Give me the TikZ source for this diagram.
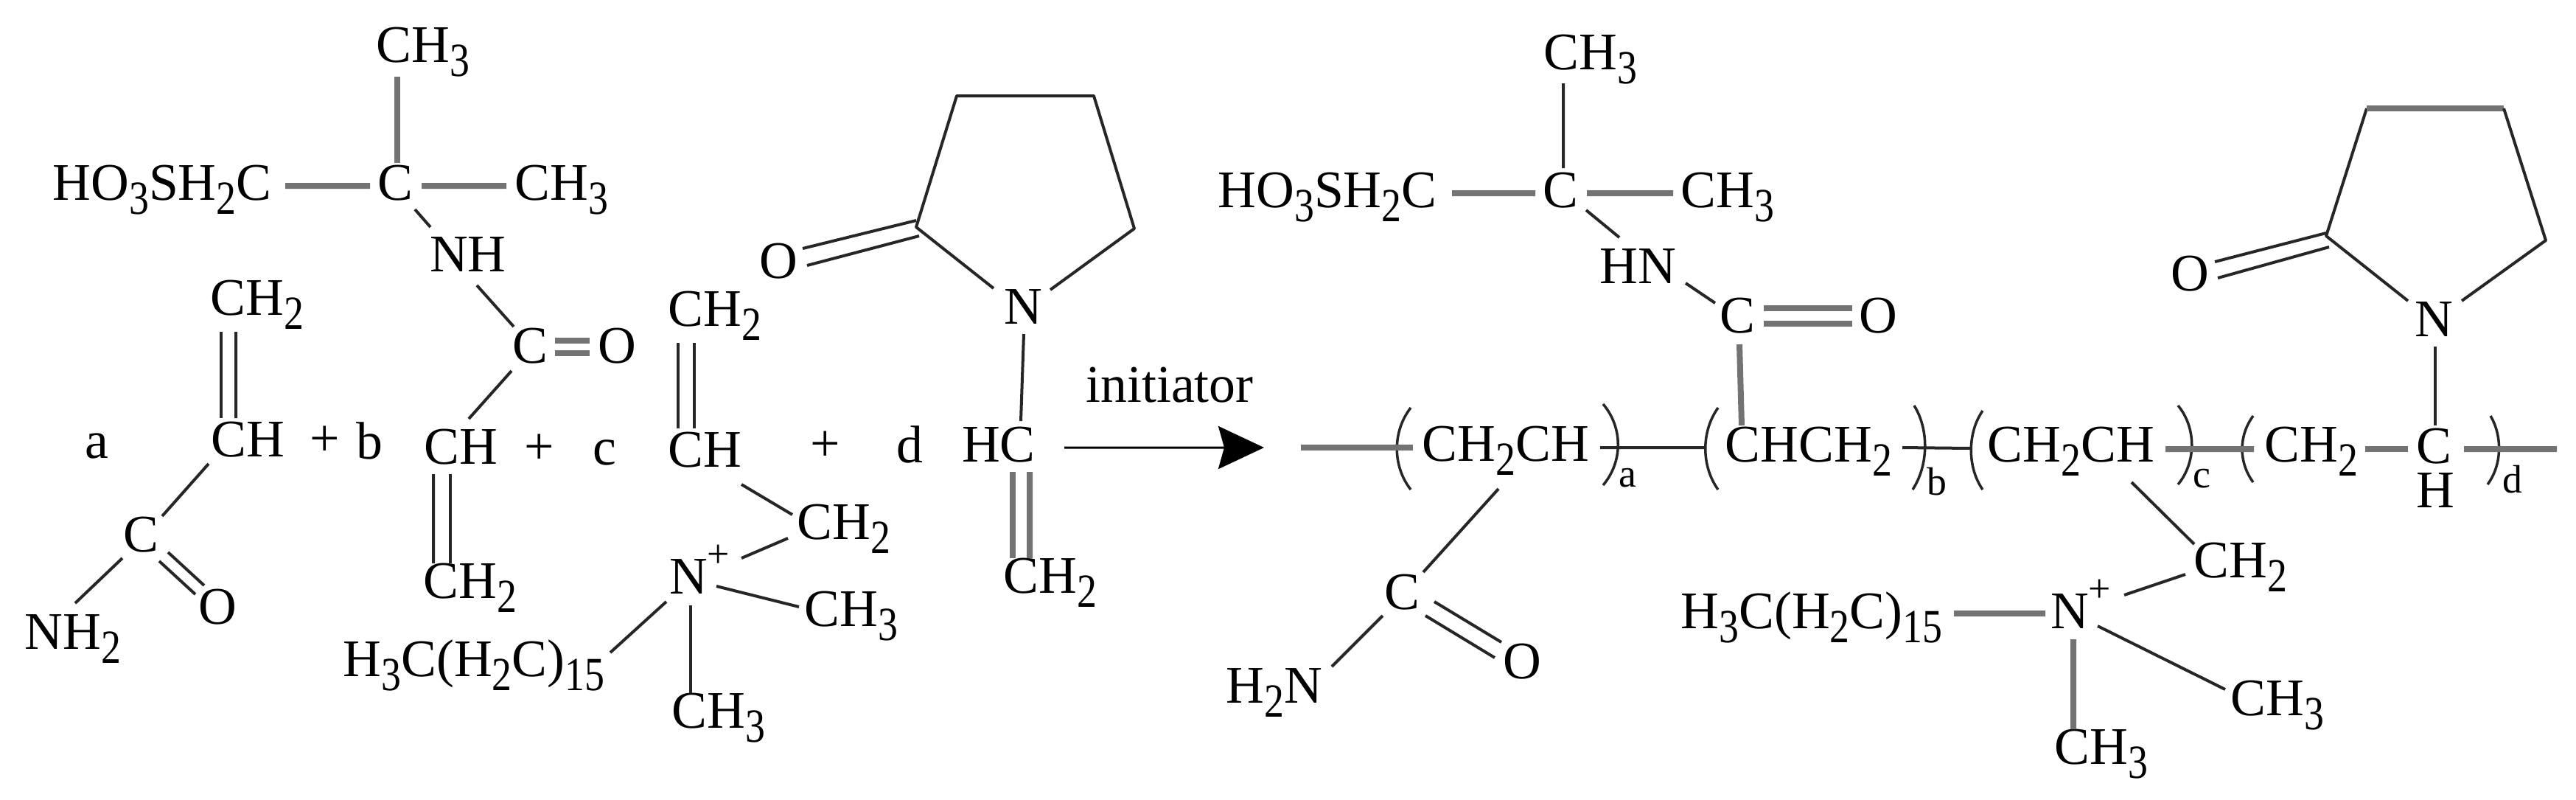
\documentclass[tikz,border=0pt]{standalone}
\usepackage{fontspec}
\usepackage{graphicx}
\setmainfont{Liberation Serif}
\usetikzlibrary{arrows.meta}

\newcommand{\sbs}[1]{\raisebox{-5.5pt}{\scalebox{1}[1.2]{\fontsize{15.3}{15.3}\selectfont #1}}}
\newcommand{\plusup}{\rlap{\raisebox{10pt}{\fontsize{15.3}{15.3}\selectfont +}}}

\tikzset{
  chem/.style={inner sep=0pt, text height=0.48cm, text depth=0cm, font=\fontsize{20.4}{24}\selectfont},
  chemsub/.style={chem, text depth=0.1cm},
  lbl/.style={inner sep=0pt, font=\fontsize{20.4}{24}\selectfont},
  count/.style={inner sep=0pt, font=\fontsize{15.3}{18}\selectfont},
  bond/.style={line width=0.04cm, black!85},
  bondg/.style={line width=0.08cm, black!55},
  paren/.style={line width=0.035cm, black!85}
}

\begin{document}
\begin{tikzpicture}
\useasboundingbox (0, 0) rectangle (34.95, -10.84);

% monomer a
\node[lbl] (acoa) at (1.31, -6.05) {a};
\node[chemsub] (ach2) at (3.49, -4.08) {CH\sbs{2}};
\node[chem] (ach) at (3.36, -5.95) {CH};
\node[chem] (acc) at (1.91, -7.24) {C};
\node[chem] (aoo) at (2.95, -8.22) {O};
\node[chemsub] (anh) at (0.99, -8.61) {NH\sbs{2}};
\node[lbl] (plus1) at (4.41, -5.98) {+};

\draw[bond] ([shift={(-.49,-.42)}]ach2.center) -- ([shift={(-.36,.28)}]ach.center);
\draw[bond] ([shift={(-.29,-.42)}]ach2.center) -- ([shift={(-.16,.28)}]ach.center);
\draw[bond] ([shift={(-.53,-.34)}]ach.center) -- ([shift={(.29,.24)}]acc.center);
\draw[bond] ([shift={(.37,-.25)}]acc.center) -- ([shift={(-.18,.28)}]aoo.center);
\draw[bond] ([shift={(.25,-.37)}]acc.center) -- ([shift={(-.30,.16)}]aoo.center);
\draw[bond] ([shift={(-.25,-.33)}]acc.center) -- ([shift={(.03,.43)}]anh.center);

% monomer b
\node[lbl] (lcoa) at (5.01, -5.98) {b};
\node[chemsub] (lme) at (5.74, -0.65) {CH\sbs{3}};
\node[chem] (lc) at (5.36, -2.47) {C};
\node[chemsub] (lso) at (2.20, -2.52) {HO\sbs{3}SH\sbs{2}C};
\node[chemsub] (lmr) at (7.62, -2.52) {CH\sbs{3}};
\node[chem] (lnh) at (6.35, -3.44) {NH};
\node[chem] (lco) at (7.19, -4.68) {C};
\node[chem] (loo) at (8.37, -4.68) {O};
\node[chem] (lch) at (6.25, -6.05) {CH};
\node[chemsub] (lvi) at (6.38, -7.92) {CH\sbs{2}};
\node[lbl] (plus2) at (7.32, -6.09) {+};

\draw[bondg] ([shift={(-.35,-.39)}]lme.center) -- ([shift={(.03,.26)}]lc.center);
\draw[bondg] ([shift={(1.67,0)}]lso.center) -- ([shift={(-.34,-.05)}]lc.center);
\draw[bondg] ([shift={(.36,-.05)}]lc.center) -- ([shift={(-.75,0)}]lmr.center);
\draw[bond] ([shift={(.27,-.37)}]lc.center) -- ([shift={(-.51,.36)}]lnh.center);
\draw[bond] ([shift={(.12,-.43)}]lnh.center) -- ([shift={(-.22,.25)}]lco.center);
\draw[bondg] ([shift={(.34,.06)}]lco.center) -- ([shift={(-.37,.06)}]loo.center);
\draw[bondg] ([shift={(.34,-.11)}]lco.center) -- ([shift={(-.37,-.11)}]loo.center);
\draw[bond] ([shift={(-.25,-.35)}]lco.center) -- ([shift={(.11,.37)}]lch.center);
\draw[bond] ([shift={(-.37,-.38)}]lch.center) -- ([shift={(-.50,.28)}]lvi.center);
\draw[bond] ([shift={(-.14,-.38)}]lch.center) -- ([shift={(-.27,.28)}]lvi.center);

% monomer c
\node[lbl] (ccoa) at (8.20, -6.14) {c};
\node[chemsub] (cch2) at (9.70, -4.23) {CH\sbs{2}};
\node[chem] (cch) at (9.56, -6.09) {CH};
\node[chemsub] (clk) at (11.45, -7.12) {CH\sbs{2}};
\node[chem] (cnn) at (9.34, -7.81) {N\plusup};
\node[chemsub] (cle) at (6.43, -8.98) {H\sbs{3}C(H\sbs{2}C)\sbs{15}};
\node[chemsub] (cmr) at (11.55, -8.30) {CH\sbs{3}};
\node[chemsub] (cmb) at (9.75, -9.68) {CH\sbs{3}};
\node[lbl] (plus3) at (11.20, -6.05) {+};

\draw[bond] ([shift={(-.50,-.42)}]cch2.center) -- ([shift={(-.36,.28)}]cch.center);
\draw[bond] ([shift={(-.28,-.42)}]cch2.center) -- ([shift={(-.14,.28)}]cch.center);
\draw[bond] ([shift={(.50,-.48)}]cch.center) -- ([shift={(-.70,.14)}]clk.center);
\draw[bond] ([shift={(-.76,-.18)}]clk.center) -- ([shift={(.72,.24)}]cnn.center);
\draw[bond] ([shift={(.38,-.14)}]cnn.center) -- ([shift={(-.71,.07)}]cmr.center);
\draw[bond] ([shift={(.03,-.40)}]cnn.center) -- ([shift={(-.38,.28)}]cmb.center);
\draw[bond] ([shift={(1.85,.13)}]cle.center) -- ([shift={(-.30,-.35)}]cnn.center);

% monomer d
\node[lbl] (dcoa) at (12.34, -6.03) {d};
\node[chem] (doo) at (10.56, -3.53) {O};
\node[chem] (dnn) at (13.88, -4.15) {N};
\node[chem] (dhc) at (13.55, -6.02) {HC};
\node[chemsub] (dch2) at (14.25, -7.85) {CH\sbs{2}};
\coordinate (dr1) at (12.43, -3.08);
\coordinate (dr2) at (12.98, -1.30);
\coordinate (dr3) at (14.84, -1.30);
\coordinate (dr4) at (15.39, -3.10);

\draw[bond, line join=round] ([shift={(-.40,.24)}]dnn.center) -- (dr1.center) -- (dr2.center) -- (dr3.center) -- (dr4.center) -- ([shift={(.37,.22)}]dnn.center);
\draw[bond] ([shift={(.33,.16)}]doo.center) -- ([shift={(0,.09)}]dr1.center);
\draw[bond] ([shift={(.39,-.07)}]doo.center) -- ([shift={(.04,-.12)}]dr1.center);
\draw[bond] ([shift={(.01,-.38)}]dnn.center) -- ([shift={(.30,.31)}]dhc.center);
\draw[bondg] ([shift={(.19,-.38)}]dhc.center) -- ([shift={(-.51,.28)}]dch2.center);
\draw[bondg] ([shift={(.42,-.38)}]dhc.center) -- ([shift={(-.28,.28)}]dch2.center);

% reaction arrow
\node[lbl] (init) at (15.87, -5.22) {initiator};
\coordinate (arrowend) at (17.15, -6.07);
\draw[line width=0.03cm, -{Stealth[length=0.62cm, width=0.58cm, inset=0.08cm]}] ([shift={(.89,-.05)}]dhc.center) -- (arrowend);

% polymer, side groups
\node[chemsub] (pme) at (21.58, -0.75) {CH\sbs{3}};
\node[chem] (pc) at (21.17, -2.57) {C};
\node[chemsub] (pso) at (18.01, -2.62) {HO\sbs{3}SH\sbs{2}C};
\node[chemsub] (pmr) at (23.44, -2.62) {CH\sbs{3}};
\node[chem] (phn) at (22.22, -3.60) {HN};
\node[chem] (pco) at (23.57, -4.27) {C};
\node[chem] (poo) at (25.48, -4.27) {O};

% polymer, main chain
\node[chemsub] (sa) at (20.43, -6.06) {CH\sbs{2}CH};
\node[chemsub] (sb) at (24.54, -6.07) {CHCH\sbs{2}};
\node[chemsub] (sc) at (28.10, -6.07) {CH\sbs{2}CH};
\node[chemsub] (sd1) at (31.36, -6.07) {CH\sbs{2}};
\node[chem, text depth=0.06cm] (sd2) at (33.02, -6.07) {C};
\node[chem] (sdh) at (33.04, -6.64) {H};
\node[count] (suba) at (22.08, -6.48) {a};
\node[count] (subb) at (26.28, -6.53) {b};
\node[count] (subc) at (29.87, -6.49) {c};
\node[count] (subd) at (34.09, -6.50) {d};

\coordinate (chl) at (17.65, -6.07);
\coordinate (chr) at (34.69, -6.09);
\coordinate (pal) at (19.17, -6.07);
\coordinate (pbl) at (23.14, -6.07);
\coordinate (pcl) at (26.74, -6.08);
\coordinate (pdl) at (30.58, -6.09);

\draw[paren] (19.14, -5.53) .. controls (18.89, -5.85) and (18.89, -6.32) .. (19.14, -6.64);
\draw[paren] (21.75, -5.48) .. controls (22.02, -5.80) and (22.02, -6.26) .. (21.75, -6.58);
\draw[paren] (23.31, -5.53) .. controls (23.08, -5.85) and (23.08, -6.32) .. (23.31, -6.64);
\draw[paren] (25.97, -5.50) .. controls (26.17, -5.82) and (26.17, -6.30) .. (25.95, -6.64);
\draw[paren] (26.90, -5.57) .. controls (26.69, -5.87) and (26.69, -6.34) .. (26.90, -6.64);
\draw[paren] (29.55, -5.50) .. controls (29.80, -5.80) and (29.80, -6.27) .. (29.55, -6.57);
\draw[paren] (30.57, -5.64) .. controls (30.37, -5.91) and (30.37, -6.27) .. (30.57, -6.54);
\draw[paren] (33.79, -5.64) .. controls (33.95, -5.91) and (33.95, -6.30) .. (33.75, -6.57);

\draw[bondg] (chl) -- (pal);
\draw[bond] ([shift={(1.28,-.01)}]sa.center) -- (pbl);
\draw[bond] ([shift={(1.27,0)}]sb.center) -- (pcl);
\draw[bondg] ([shift={(1.28,-.02)}]sc.center) -- (pdl);
\draw[bondg] ([shift={(.73,-.02)}]sd1.center) -- ([shift={(-.35,-.02)}]sd2.center);
\draw[bondg] ([shift={(.41,-.02)}]sd2.center) -- (chr);

\draw[bond] ([shift={(-.37,-.38)}]pme.center) -- ([shift={(.04,.29)}]pc.center);
\draw[bondg] ([shift={(1.69,0)}]pso.center) -- ([shift={(-.34,-.05)}]pc.center);
\draw[bondg] ([shift={(.36,-.05)}]pc.center) -- ([shift={(-.74,0)}]pmr.center);
\draw[bond] ([shift={(.35,-.28)}]pc.center) -- ([shift={(-.25,.38)}]phn.center);
\draw[bond] ([shift={(.65,-.24)}]phn.center) -- ([shift={(-.30,.16)}]pco.center);
\draw[bondg] ([shift={(.36,.09)}]pco.center) -- ([shift={(-.35,.09)}]poo.center);
\draw[bondg] ([shift={(.36,-.12)}]pco.center) -- ([shift={(-.35,-.12)}]poo.center);
\draw[bondg] ([shift={(.03,-.40)}]pco.center) -- ([shift={(-.91,.30)}]sb.center);

% amide on unit a
\node[chem] (ucc) at (19.02, -8.02) {C};
\node[chem] (uoo) at (20.65, -8.96) {O};
\node[chemsub] (unh) at (17.29, -9.34) {H\sbs{2}N};

\draw[bond] ([shift={(-.10,-.57)}]sa.center) -- ([shift={(.29,.26)}]ucc.center);
\draw[bond] ([shift={(.44,-.14)}]ucc.center) -- ([shift={(-.28,.25)}]uoo.center);
\draw[bond] ([shift={(.32,-.33)}]ucc.center) -- ([shift={(-.37,.04)}]uoo.center);
\draw[bond] ([shift={(-.26,-.33)}]ucc.center) -- ([shift={(.78,.30)}]unh.center);

% ammonium on unit c
\node[chemsub] (vlk) at (30.40, -7.64) {CH\sbs{2}};
\node[chem] (vnn) at (28.08, -8.28) {N\plusup};
\node[chemsub] (vle) at (24.58, -8.33) {H\sbs{3}C(H\sbs{2}C)\sbs{15}};
\node[chemsub] (vmr) at (30.90, -9.51) {CH\sbs{3}};
\node[chemsub] (vmb) at (28.51, -10.17) {CH\sbs{3}};

\draw[bond] ([shift={(.82,-.47)}]sc.center) -- ([shift={(-.63,.26)}]vlk.center);
\draw[bond] ([shift={(-.75,-.15)}]vlk.center) -- ([shift={(.74,.21)}]vnn.center);
\draw[bondg] ([shift={(1.93,.01)}]vle.center) -- ([shift={(-.33,-.04)}]vnn.center);
\draw[bond] ([shift={(.38,-.21)}]vnn.center) -- ([shift={(-.71,.16)}]vmr.center);
\draw[bondg] ([shift={(.05,-.39)}]vnn.center) -- ([shift={(-.38,.28)}]vmb.center);

% lactam on unit d
\node[chem] (qoo) at (29.71, -3.70) {O};
\node[chem] (qnn) at (33.02, -4.32) {N};
\coordinate (qr1) at (31.56, -3.20);
\coordinate (qr2) at (32.11, -1.47);
\coordinate (qr3) at (33.97, -1.47);
\coordinate (qr4) at (34.54, -3.26);

\draw[bond, line join=round] ([shift={(-.35,.24)}]qnn.center) -- (qr1.center) -- (qr2.center);
\draw[bondg] (qr2.center) -- (qr3.center);
\draw[bond, line join=round] (qr3.center) -- (qr4.center) -- ([shift={(.38,.24)}]qnn.center);
\draw[bond] ([shift={(.34,.15)}]qoo.center) -- ([shift={(0,.04)}]qr1.center);
\draw[bond] ([shift={(.38,-.07)}]qoo.center) -- ([shift={(.04,-.15)}]qr1.center);
\draw[bond] ([shift={(.02,-.38)}]qnn.center) -- ([shift={(.02,.30)}]sd2.center);

\end{tikzpicture}
\end{document}
